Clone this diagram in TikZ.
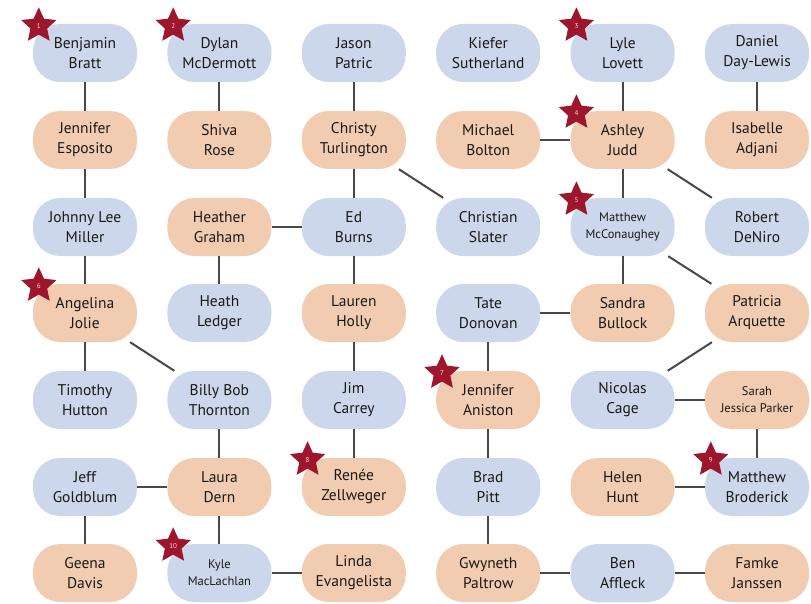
\documentclass[tikz,border=0pt]{standalone}
\usepackage{fontspec}
\setmainfont{PT Sans}
\usepackage{tikz}
\usetikzlibrary{shapes.geometric}
\definecolor{bluecell}{RGB}{205,215,235}
\definecolor{orangecell}{RGB}{241,204,176}
\definecolor{starred}{RGB}{158,22,44}
\definecolor{linkgray}{RGB}{72,72,72}
\tikzset{
  person/.style={rounded corners=27pt,minimum width=104pt,minimum height=58pt,align=center,inner sep=2pt,font=\fontsize{15.5}{20}\selectfont,text=black!90},
  bluebox/.style={person,fill=bluecell},
  orangebox/.style={person,fill=orangecell},
  bluesmall/.style={bluebox,font=\fontsize{12.5}{17}\selectfont},
  orangesmall/.style={orangebox,font=\fontsize{12.5}{17}\selectfont},
  rank/.style={star,star points=5,star point ratio=2.1,minimum size=37pt,inner sep=0pt,fill=starred,text=red!15,font=\fontsize{7}{7}\selectfont},
  link/.style={draw=linkgray,line width=2pt},
}

\begin{document}
\begin{tikzpicture}[x=1pt,y=-1pt]
\useasboundingbox (0,0) rectangle (811,604);
% one row of people at a time
\foreach \n/\s/\t [count=\i from 0] in {bratt/bluebox/{Benjamin\\Bratt},mcdermott/bluebox/{Dylan\\McDermott},patric/bluebox/{Jason\\Patric},sutherland/bluebox/{Kiefer\\Sutherland},lovett/bluebox/{Lyle\\Lovett},daylewis/bluebox/{Daniel\\Day-Lewis}}
  \node[\s] (\n) at (85+134.4*\i,53) {\t};
\foreach \n/\s/\t [count=\i from 0] in {esposito/orangebox/{Jennifer\\Esposito},rose/orangebox/{Shiva\\Rose},turlington/orangebox/{Christy\\Turlington},bolton/orangebox/{Michael\\Bolton},judd/orangebox/{Ashley\\Judd},adjani/orangebox/{Isabelle\\Adjani}}
  \node[\s] (\n) at (85+134.4*\i,140) {\t};
\foreach \n/\s/\t [count=\i from 0] in {miller/bluebox/{Johnny Lee\\Miller},graham/orangebox/{Heather\\Graham},burns/bluebox/{Ed\\Burns},slater/bluebox/{Christian\\Slater},mcconaughey/bluesmall/{Matthew\\McConaughey},deniro/bluebox/{Robert\\DeNiro}}
  \node[\s] (\n) at (85+134.4*\i,227) {\t};
\foreach \n/\s/\t [count=\i from 0] in {jolie/orangebox/{Angelina\\Jolie},ledger/bluebox/{Heath\\Ledger},holly/orangebox/{Lauren\\Holly},donovan/bluebox/{Tate\\Donovan},bullock/orangebox/{Sandra\\Bullock},arquette/orangebox/{Patricia\\Arquette}}
  \node[\s] (\n) at (85+134.4*\i,313) {\t};
\foreach \n/\s/\t [count=\i from 0] in {hutton/bluebox/{Timothy\\Hutton},thornton/bluebox/{Billy Bob\\Thornton},carrey/bluebox/{Jim\\Carrey},aniston/orangebox/{Jennifer\\Aniston},cage/bluebox/{Nicolas\\Cage},parker/orangesmall/{Sarah\\Jessica Parker}}
  \node[\s] (\n) at (85+134.4*\i,400) {\t};
\foreach \n/\s/\t [count=\i from 0] in {goldblum/bluebox/{Jeff\\Goldblum},dern/orangebox/{Laura\\Dern},zellweger/orangebox/{Renée\\Zellweger},pitt/bluebox/{Brad\\Pitt},hunt/orangebox/{Helen\\Hunt},broderick/bluebox/{Matthew\\Broderick}}
  \node[\s] (\n) at (85+134.4*\i,487) {\t};
\foreach \n/\s/\t [count=\i from 0] in {davis/orangebox/{Geena\\Davis},maclachlan/bluesmall/{Kyle\\MacLachlan},evangelista/orangebox/{Linda\\Evangelista},paltrow/orangebox/{Gwyneth\\Paltrow},affleck/bluebox/{Ben\\Affleck},janssen/orangebox/{Famke\\Janssen}}
  \node[\s] (\n) at (85+134.4*\i,573) {\t};
% links
\foreach \a/\b in {bratt/esposito,esposito/miller,miller/jolie,jolie/hutton,jolie/thornton,goldblum/davis,goldblum/dern,
  mcdermott/rose,graham/ledger,graham/burns,thornton/dern,dern/maclachlan,maclachlan/evangelista,
  patric/turlington,turlington/burns,turlington/slater,burns/holly,holly/carrey,carrey/zellweger,
  bolton/judd,donovan/bullock,donovan/aniston,aniston/pitt,pitt/paltrow,paltrow/affleck,
  lovett/judd,judd/mcconaughey,judd/deniro,mcconaughey/bullock,mcconaughey/arquette,cage/arquette,cage/parker,hunt/broderick,affleck/janssen,
  daylewis/adjani,parker/broderick}
  \draw[link] (\a) -- (\b);
% numbered stars
\foreach \n/\k in {bratt/1,mcdermott/2,lovett/3,judd/4,mcconaughey/5,jolie/6,aniston/7,zellweger/8,broderick/9,maclachlan/10}
  \node[rank] (star\k) at ([shift={(6,2)}]\n.north west) {\k};
\end{tikzpicture}
\end{document}
